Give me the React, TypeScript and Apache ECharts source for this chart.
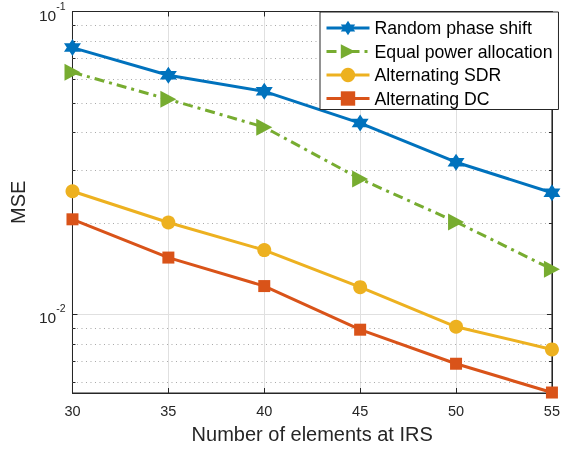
import React, { useEffect, useRef } from "react";
import * as echarts from "echarts";

const xValues = [30, 35, 40, 45, 50, 55];
const randomPhase = [0.076, 0.0616, 0.0545, 0.0428, 0.0318, 0.0252];
const equalPower = [0.063, 0.0513, 0.0415, 0.028, 0.0202, 0.0141];
const altSDR = [0.0255, 0.0201, 0.0163, 0.0123, 0.0091, 0.00766];
const altDC = [0.0206, 0.0154, 0.0124, 0.0089, 0.00687, 0.00552];
const minorTicks = [0.006, 0.007, 0.008, 0.009, 0.02, 0.03, 0.04, 0.05, 0.06, 0.07, 0.08, 0.09];
const seriesNames = ["Random phase shift", "Equal power allocation", "Alternating SDR", "Alternating DC"];

const HEX =
  "path://M10 0 L12.887 5 L18.66 5 L15.77 10 L18.66 15 L12.887 15 L10 20 L7.113 15 L1.34 15 L4.23 10 L1.34 5 L7.113 5 Z";
const TRI = "path://M0 0 L20 10 L0 20 Z";

const TEXT = "#262626";
const FONT = "'Liberation Sans', Arial, Helvetica, sans-serif";

export default function App() {
  const ref = useRef<HTMLDivElement>(null);
  useEffect(() => {
    if (!ref.current) return;
    const chart = echarts.init(ref.current, undefined, { renderer: "svg" });
    const pair = (arr: number[]) => xValues.map((x, i) => [x, arr[i]]);
    const lineSeries = (name: string, data: number[], color: string, symbol: string, size: number | number[], type: any) => ({
      name,
      type: "line",
      data: pair(data),
      symbol,
      symbolSize: size,
      clip: false,
      lineStyle: { color, width: 3, type },
      itemStyle: { color, borderWidth: 0 },
      z: 5,
    });
    chart.setOption({
      animation: false,
      textStyle: { fontFamily: FONT },
      grid: {
        left: 71,
        right: 7,
        top: 11,
        bottom: 59,
        show: true,
        borderColor: TEXT,
        borderWidth: 1,
        backgroundColor: "#fff",
      },
      legend: {
        data: seriesNames,
        orient: "vertical",
        left: 320,
        top: 12,
        padding: [7, 6, 2, 5],
        itemGap: 5.5,
        itemWidth: 43,
        itemHeight: 18,
        backgroundColor: "#fff",
        borderColor: TEXT,
        borderWidth: 1,
        borderRadius: 0,
        lineStyle: { width: 3 },
        textStyle: { fontSize: 17.7, color: "#000", fontFamily: FONT },
        z: 20,
      },
      xAxis: [
        {
          type: "value",
          min: 30,
          max: 55,
          interval: 5,
          name: "Number of elements at IRS",
          nameLocation: "middle",
          nameGap: 31,
          nameTextStyle: { fontSize: 20, color: TEXT, fontFamily: FONT },
          axisLine: { lineStyle: { color: TEXT, width: 1 } },
          axisTick: { inside: true, length: 5, lineStyle: { color: TEXT } },
          axisLabel: { fontSize: 14.5, color: TEXT, margin: 10, fontFamily: FONT },
          splitLine: { show: true, lineStyle: { color: "#e0e0e0", width: 1 } },
        },
        {
          type: "value",
          position: "top",
          min: 30,
          max: 55,
          interval: 5,
          axisLine: { show: true, lineStyle: { color: TEXT } },
          axisTick: { inside: true, length: 5, lineStyle: { color: TEXT } },
          axisLabel: { show: false },
          splitLine: { show: false },
        },
      ],
      yAxis: [
        {
          type: "log",
          logBase: 10,
          min: 0.0055,
          max: 0.1,
          name: "MSE",
          nameLocation: "middle",
          nameGap: 40,
          nameTextStyle: { fontSize: 20, color: TEXT, fontFamily: FONT },
          axisLine: { show: true, lineStyle: { color: TEXT, width: 1 } },
          axisTick: { inside: true, length: 5, lineStyle: { color: TEXT } },
          axisLabel: {
            margin: 7,
            color: TEXT,
            formatter: (v: number) => {
              const e = Math.log10(v);
              const r = Math.round(e);
              if (Math.abs(e - r) > 1e-6) return "";
              return `{b|10}{s|${r}}`;
            },
            rich: {
              b: { fontSize: 15.5, color: TEXT, fontFamily: FONT, padding: [7, 0, 0, 0], verticalAlign: "bottom" },
              s: { fontSize: 10.5, color: TEXT, fontFamily: FONT, verticalAlign: "top" },
            },
          },
          splitLine: { show: true, lineStyle: { color: "#e0e0e0", width: 1 } },
        },
        {
          type: "log",
          logBase: 10,
          min: 0.0055,
          max: 0.1,
          position: "right",
          axisLine: { show: true, lineStyle: { color: TEXT } },
          axisTick: { inside: true, length: 5, lineStyle: { color: TEXT } },
          axisLabel: { show: false },
          splitLine: { show: false },
        },
      ],
      series: [
        {
          type: "custom",
          silent: true,
          z: 1,
          data: minorTicks.map((v) => [30, v]),
          renderItem: (params: any, api: any) => {
            const cs = params.coordSys;
            const p = api.coord([api.value(0), api.value(1)]);
            const y = Math.round(p[1]) + 0.5;
            return {
              type: "group",
              children: [
                {
                  type: "line",
                  shape: { x1: cs.x, y1: y, x2: cs.x + cs.width, y2: y },
                  style: { stroke: "#a8a8a8", lineWidth: 1, lineDash: [1, 3.5] },
                },
                {
                  type: "line",
                  shape: { x1: cs.x, y1: y, x2: cs.x + 3, y2: y },
                  style: { stroke: TEXT, lineWidth: 1 },
                },
                {
                  type: "line",
                  shape: { x1: cs.x + cs.width - 3, y1: y, x2: cs.x + cs.width, y2: y },
                  style: { stroke: TEXT, lineWidth: 1 },
                },
              ],
            };
          },
        },
        lineSeries(seriesNames[0], randomPhase, "#0072BD", HEX, 17, "solid"),
        lineSeries(seriesNames[1], equalPower, "#77AC30", TRI, [16, 17], [10, 5, 3, 5]),
        lineSeries(seriesNames[2], altSDR, "#EDB120", "circle", 14, "solid"),
        lineSeries(seriesNames[3], altDC, "#D95319", "rect", 12, "solid"),
      ],
    });
    return () => chart.dispose();
  }, []);
  return <div ref={ref} style={{ position: "fixed", left: 0, top: 0, width: 563, height: 452 }} />;
}
